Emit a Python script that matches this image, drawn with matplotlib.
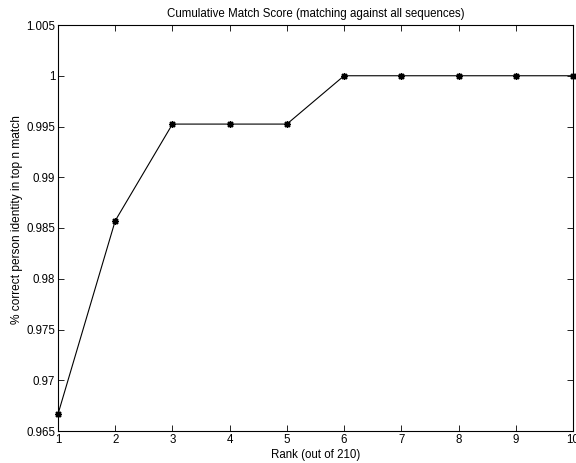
import matplotlib
matplotlib.use("Agg")
import matplotlib.pyplot as plt

rank = [1, 2, 3, 4, 5, 6, 7, 8, 9, 10]
score = [203/210, 207/210, 209/210, 209/210, 209/210, 1, 1, 1, 1, 1]
xticks = [1, 2, 3, 4, 5, 6, 7, 8, 9, 10]
yticks = [0.965, 0.97, 0.975, 0.98, 0.985, 0.99, 0.995, 1, 1.005]
ytick_labels = ["0.965", "0.97", "0.975", "0.98", "0.985", "0.99", "0.995", "1", "1.005"]

plt.rcParams['font.family'] = ['Liberation Sans', 'DejaVu Sans']
fs = 8.3

fig = plt.figure(figsize=(5.76, 4.63), dpi=100)
ax = fig.add_axes([58/576, 1 - 431/463, (573 - 58)/576, (431 - 25)/463])
ax.plot(rank, score, color='black', lw=0.8, marker=(8, 2, 0), markersize=5,
        markeredgewidth=1.0, clip_on=False, zorder=3)
ax.set_xlim(1, 10)
ax.set_ylim(0.965, 1.005)
ax.set_xticks(xticks)
ax.set_xticklabels([str(t) for t in xticks], fontsize=fs)
ax.set_yticks(yticks)
ax.set_yticklabels(ytick_labels, fontsize=fs)
ax.tick_params(direction='in', top=True, right=True, length=4, width=0.6, pad=2)
for s in ax.spines.values():
    s.set_linewidth(0.8)
ax.set_title('Cumulative Match Score (matching against all sequences)', fontsize=fs, pad=6)
ax.set_xlabel('Rank (out of 210)', fontsize=fs, labelpad=2)
ax.set_ylabel('% correct person identity in top n match', fontsize=8.6)
ax.yaxis.set_label_coords(-0.068, 0.52)
fig.savefig('out.png', dpi=100)
